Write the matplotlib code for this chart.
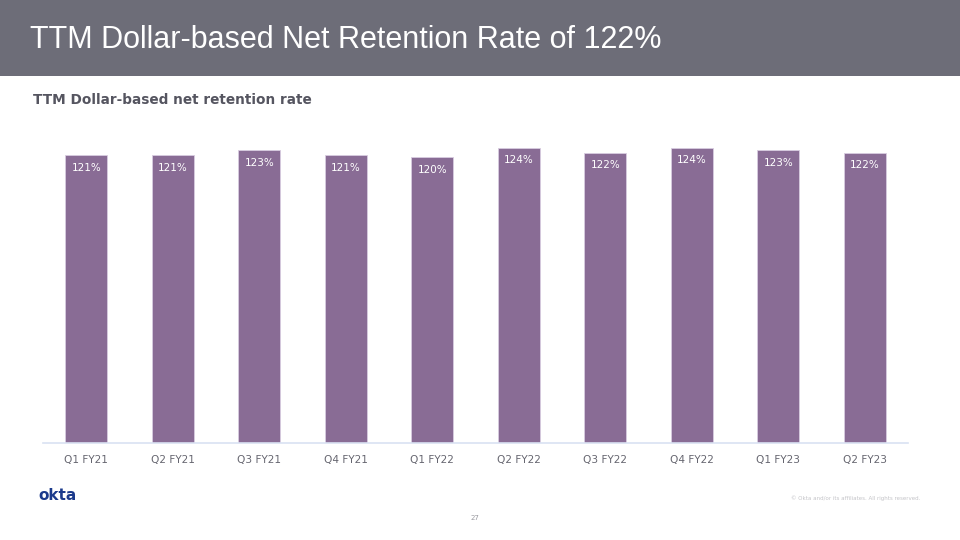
import matplotlib.pyplot as plt
from matplotlib.patches import Rectangle

# datos del gráfico
trimestres = ["Q1 FY21", "Q2 FY21", "Q3 FY21", "Q4 FY21", "Q1 FY22",
              "Q2 FY22", "Q3 FY22", "Q4 FY22", "Q1 FY23", "Q2 FY23"]
retencion = [121, 121, 123, 121, 120, 124, 122, 124, 123, 122]
etiquetas = [f"{v}%" for v in retencion]

fig = plt.figure(figsize=(9.6, 5.4), dpi=100)
fig.patch.set_facecolor("white")

# banda gris del encabezado
fig.patches.append(Rectangle((0, 1 - 76 / 540), 1, 76 / 540, transform=fig.transFigure,
                             facecolor="#6d6d78", edgecolor="none", zorder=0))
fig.text(30 / 960, 1 - 40 / 540, "TTM Dollar-based Net Retention Rate of 122%",
         color="white", fontsize=22, va="center", ha="left", family="Liberation Sans")
fig.text(33 / 960, 1 - 100 / 540, "TTM Dollar-based net retention rate",
         color="#555560", fontsize=9.8, fontweight="bold", va="center", ha="left")

# ejes del gráfico
ax = fig.add_axes([43 / 960, 1 - 443 / 540, 865 / 960, 313 / 540])
x = range(len(trimestres))
ax.bar(x, retencion, width=0.485, color="#896c95", edgecolor="#d8cce0", linewidth=0.6)
ax.set_xlim(-0.5, len(trimestres) - 0.5)
ax.set_ylim(0, 313 / 2.38)

for i, v in enumerate(retencion):
    ax.annotate(etiquetas[i], (i, v), xytext=(0, -9), textcoords="offset points",
                ha="center", va="center", color="white", fontsize=7.5)

ax.set_xticks(list(x))
ax.set_xticklabels(trimestres, color="#666670", fontsize=7.6)
ax.tick_params(axis="x", length=0, pad=9)
ax.set_yticks([])
for lado in ["top", "right", "left"]:
    ax.spines[lado].set_visible(False)
ax.spines["bottom"].set_color("#d9e1f2")
ax.spines["bottom"].set_linewidth(1.2)

# pie de página
fig.text(38 / 960, 1 - 496 / 540, "okta", color="#1b3a8c", fontsize=11,
         fontweight="bold", va="center", ha="left")
fig.text(920 / 960, 1 - 498 / 540, "© Okta and/or its affiliates. All rights reserved.",
         color="#c4c4c8", fontsize=4, va="center", ha="right")
fig.text(475 / 960, 1 - 518 / 540, "27", color="#9a9aa0", fontsize=5,
         va="center", ha="center")

fig.savefig("out.png", dpi=100)
